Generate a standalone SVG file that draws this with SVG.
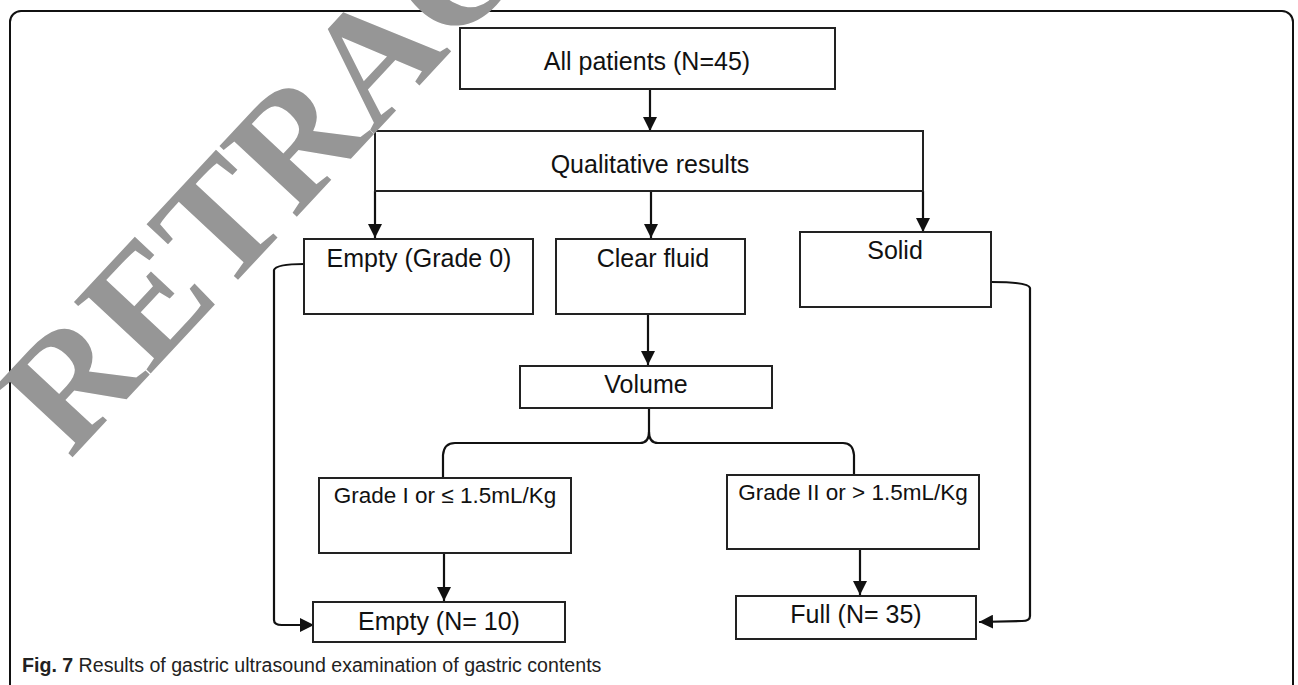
<svg xmlns="http://www.w3.org/2000/svg" width="1298" height="685" viewBox="0 0 1298 685">
<defs>
<style>
.box{fill:#fff;stroke:#222;stroke-width:2}
.lbl{font-family:"Liberation Sans",Arial,sans-serif;font-size:25px;fill:#111;text-anchor:middle}
.sm{font-size:22.5px}
.con{fill:none;stroke:#111;stroke-width:2.2}
.cap{font-family:"Liberation Sans",Arial,sans-serif;font-size:19.6px;fill:#222}
.wm{font-family:"Liberation Serif","Times New Roman",serif;font-weight:bold;font-size:160px;fill:#969696}
</style>
<marker id="ah" markerUnits="userSpaceOnUse" markerWidth="14" markerHeight="14" refX="14" refY="7" orient="auto">
<path d="M0,0 L14,7 L0,14 z" fill="#111"/>
</marker>
</defs>
<rect x="0" y="0" width="1298" height="685" fill="#fff"/>
<rect x="10" y="11" width="1283" height="700" rx="11" fill="none" stroke="#111" stroke-width="2"/>

<g id="connectors">
<path class="con" d="M650,90 L650,131" marker-end="url(#ah)"/>
<path class="con" d="M375,191 L375,238" marker-end="url(#ah)"/>
<path class="con" d="M651,191 L651,238" marker-end="url(#ah)"/>
<path class="con" d="M923,191 L923,232" marker-end="url(#ah)"/>
<path class="con" d="M648,314 L648,365" marker-end="url(#ah)"/>
<path class="con" d="M649,408 L649,432 Q649,443 640,443 L455,443 Q444,443 443,455 L443,477"/>
<path class="con" d="M649,432 Q649,443 658,443 L843,443 Q853,443 854,455 L854,475"/>
<path class="con" d="M444,553 L444,601" marker-end="url(#ah)"/>
<path class="con" d="M860,549 L860,595" marker-end="url(#ah)"/>
<path class="con" d="M304,264 Q276,264 274,270 L274,620 Q274,625 282,625 L314,625" marker-end="url(#ah)"/>
<path class="con" d="M991,282 Q1029,282 1030,288 L1030,616 Q1030,621 1022,621 L979,622" marker-end="url(#ah)"/>
</g>

<g id="n-all"><rect class="box" x="460" y="28" width="375" height="61"/><text class="lbl" x="647" y="70">All patients (N=45)</text></g>
<g id="n-qual"><rect class="box" x="375" y="131" width="548" height="60"/><text class="lbl" x="650" y="173">Qualitative results</text></g>
<g id="n-empty0"><rect class="box" x="304" y="239" width="229" height="75"/><text class="lbl" x="419" y="267">Empty (Grade 0)</text></g>
<g id="n-clear"><rect class="box" x="556" y="239" width="189" height="75"/><text class="lbl" x="653" y="267">Clear fluid</text></g>
<g id="n-solid"><rect class="box" x="800" y="232" width="191" height="75"/><text class="lbl" x="895" y="259">Solid</text></g>
<g id="n-volume"><rect class="box" x="520" y="366" width="252" height="42"/><text class="lbl" x="646" y="393">Volume</text></g>
<g id="n-g1"><rect class="box" x="319" y="478" width="252" height="75"/><text class="lbl sm" x="445" y="503">Grade I or ≤ 1.5mL/Kg</text></g>
<g id="n-g2"><rect class="box" x="727" y="475" width="252" height="74"/><text class="lbl sm" x="853" y="500">Grade II or &gt; 1.5mL/Kg</text></g>
<g id="n-emptyN"><rect class="box" x="313" y="602" width="252" height="40"/><text class="lbl" x="439" y="630">Empty (N= 10)</text></g>
<g id="n-full"><rect class="box" x="736" y="596" width="240" height="43"/><text class="lbl" x="856" y="623">Full (N= 35)</text></g>

<text class="cap" x="22" y="672"><tspan font-weight="bold">Fig. 7</tspan> Results of gastric ultrasound examination of gastric contents</text>

<g id="watermark"><text class="wm" transform="translate(70,460) rotate(-47)">RETRACTED</text></g>
</svg>
